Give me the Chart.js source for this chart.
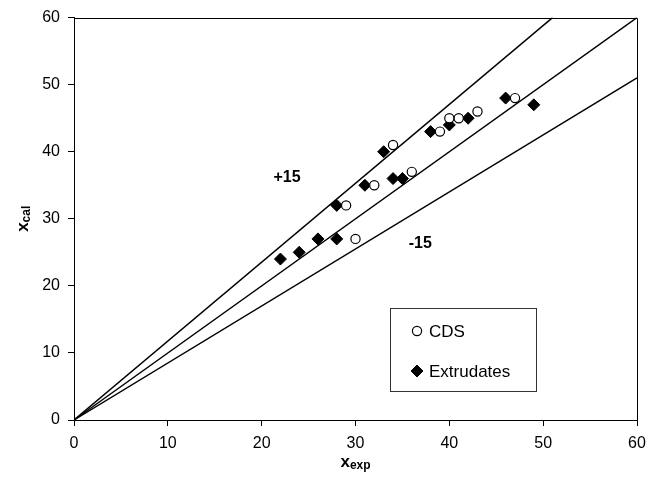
<!DOCTYPE html>
<html>
<head>
<meta charset="utf-8">
<script src="https://cdn.jsdelivr.net/npm/chart.js@4.4.0/dist/chart.umd.min.js"></script>
<style>
    html, body { margin: 0; padding: 0; background: #fff; }
    #wrap { width: 662px; height: 481px; }
</style>
</head>
<body>
<div id="wrap"><canvas id="chart" width="662" height="481"></canvas></div>
<script>
// ============================================
// DATA
// ============================================
const cdsX = [29, 30, 32, 34, 36, 39, 40, 41, 43, 47];
const cdsY = [32, 27, 35, 41, 37, 43, 45, 45, 46, 48];

const extrudatesX = [22, 24, 26, 28, 28, 31, 33, 34, 35, 38, 40, 42, 46, 49];
const extrudatesY = [24, 25, 27, 27, 32, 35, 40, 36, 36, 43, 44, 45, 48, 47];

// reference lines: y = x, +15 % and -15 %
const parityX = [0, 60];
const parityY = [0, 60];
const plusX = [0, 51];
const plusY = [0, 60];
const minusX = [0, 60];
const minusY = [0, 51];

const tickValues = [0, 10, 20, 30, 40, 50, 60];

const annotationLabels = ["+15", "-15"];
const annotationX = [22.7, 36.9];
const annotationY = [36.1, 26.3];

const legendLabels = ["CDS", "Extrudates"];

const FONT = "'Liberation Sans', Arial, sans-serif";

// ============================================
// HELPERS
// ============================================
function toPoints(xs, ys) {
    return xs.map((x, i) => ({ x: x, y: ys[i] }));
}

function lineDataset(xs, ys) {
    return {
        data: toPoints(xs, ys),
        showLine: true,
        borderColor: "#000",
        borderWidth: 1.4,
        pointRadius: 0,
        fill: false
    };
}

// draws "main" with a smaller subscript, centred on the current origin
function drawSubscripted(ctx, main, sub) {
    ctx.font = "bold 17px " + FONT;
    const wMain = ctx.measureText(main).width;
    ctx.font = "bold 12px " + FONT;
    const wSub = ctx.measureText(sub).width;
    const start = -(wMain + wSub) / 2;
    ctx.textAlign = "left";
    ctx.textBaseline = "alphabetic";
    ctx.font = "bold 17px " + FONT;
    ctx.fillText(main, start, 0);
    ctx.font = "bold 12px " + FONT;
    ctx.fillText(sub, start + wMain, 2);
}

// ============================================
// PLUGINS
// ============================================
const framePlugin = {
    id: "frame",
    afterDraw(chart) {
        const { ctx, chartArea: a } = chart;
        ctx.save();
        ctx.strokeStyle = "#000";
        ctx.lineWidth = 1;
        ctx.beginPath();
        ctx.moveTo(Math.round(a.left) + 0.5, Math.round(a.top) + 0.5);
        ctx.lineTo(Math.round(a.right) + 0.5, Math.round(a.top) + 0.5);
        ctx.lineTo(Math.round(a.right) + 0.5, Math.round(a.bottom) + 0.5);
        ctx.stroke();
        ctx.restore();
    }
};

const titlesPlugin = {
    id: "axisTitles",
    afterDraw(chart) {
        const { ctx, chartArea: a } = chart;
        ctx.save();
        ctx.fillStyle = "#000";
        // x title
        ctx.save();
        ctx.translate((a.left + a.right) / 2, 467);
        drawSubscripted(ctx, "x", "exp");
        ctx.restore();
        // y title
        ctx.save();
        ctx.translate(28, (a.top + a.bottom) / 2);
        ctx.rotate(-Math.PI / 2);
        drawSubscripted(ctx, "x", "cal");
        ctx.restore();
        ctx.restore();
    }
};

const annotationPlugin = {
    id: "bandLabels",
    afterDatasetsDraw(chart) {
        const { ctx, scales } = chart;
        ctx.save();
        ctx.fillStyle = "#000";
        ctx.font = "bold 16px " + FONT;
        ctx.textAlign = "center";
        ctx.textBaseline = "middle";
        annotationLabels.forEach((label, i) => {
            ctx.fillText(label,
                scales.x.getPixelForValue(annotationX[i]),
                scales.y.getPixelForValue(annotationY[i]));
        });
        ctx.restore();
    }
};

const legendPlugin = {
    id: "boxLegend",
    afterDraw(chart) {
        const ctx = chart.ctx;
        const box = { left: 390.5, top: 308.5, width: 146, height: 83 };
        ctx.save();
        ctx.fillStyle = "#fff";
        ctx.fillRect(box.left, box.top, box.width, box.height);
        ctx.strokeStyle = "#333";
        ctx.lineWidth = 1;
        ctx.strokeRect(box.left, box.top, box.width, box.height);

        const rowY = [331, 371];
        const markX = 417;
        ctx.font = "17px " + FONT;
        ctx.textAlign = "left";
        ctx.textBaseline = "middle";
        legendLabels.forEach((label, i) => {
            const ds = chart.data.datasets[i];
            const r = ds.pointRadius;
            ctx.fillStyle = ds.pointBackgroundColor;
            ctx.strokeStyle = ds.pointBorderColor;
            ctx.lineWidth = ds.pointBorderWidth;
            ctx.beginPath();
            if (ds.pointStyle === "circle") {
                ctx.arc(markX, rowY[i], r, 0, Math.PI * 2);
            } else {
                ctx.moveTo(markX, rowY[i] - r);
                ctx.lineTo(markX + r, rowY[i]);
                ctx.lineTo(markX, rowY[i] + r);
                ctx.lineTo(markX - r, rowY[i]);
                ctx.closePath();
            }
            ctx.fill();
            ctx.stroke();
            ctx.fillStyle = "#000";
            ctx.fillText(label, 429, rowY[i] + 1);
        });
        ctx.restore();
    }
};

// ============================================
// CHART
// ============================================
function axisOptions(fit) {
    return {
        type: "linear",
        min: 0,
        max: 60,
        afterBuildTicks(scale) {
            scale.ticks = tickValues.map(v => ({ value: v }));
        },
        afterFit: fit,
        ticks: {
            color: "#000",
            padding: 8,
            font: { family: FONT, size: 16 }
        },
        grid: {
            display: true,
            drawOnChartArea: false,
            drawTicks: true,
            tickLength: 6,
            color: "#000",
            lineWidth: 1
        },
        border: { display: true, color: "#000", width: 1 }
    };
}

const ctx = document.getElementById("chart").getContext("2d");
new Chart(ctx, {
    type: "scatter",
    data: {
        datasets: [
            {
                label: legendLabels[0],
                data: toPoints(cdsX, cdsY),
                pointStyle: "circle",
                pointRadius: 4.6,
                pointBorderWidth: 1.2,
                pointBackgroundColor: "#fff",
                pointBorderColor: "#000"
            },
            {
                label: legendLabels[1],
                data: toPoints(extrudatesX, extrudatesY),
                pointStyle: "rectRot",
                pointRadius: 6,
                pointBorderWidth: 1,
                pointBackgroundColor: "#000",
                pointBorderColor: "#000"
            },
            lineDataset(parityX, parityY),
            lineDataset(plusX, plusY),
            lineDataset(minusX, minusY)
        ]
    },
    options: {
        responsive: false,
        animation: false,
        devicePixelRatio: 1,
        layout: { padding: { top: 13, right: 25, left: 0, bottom: 0 } },
        plugins: {
            legend: { display: false },
            tooltip: { enabled: false }
        },
        scales: {
            x: axisOptions(scale => { scale.height = 61; }),
            y: axisOptions(scale => { scale.width = 74; })
        }
    },
    plugins: [annotationPlugin, framePlugin, titlesPlugin, legendPlugin]
});
</script>
</body>
</html>
